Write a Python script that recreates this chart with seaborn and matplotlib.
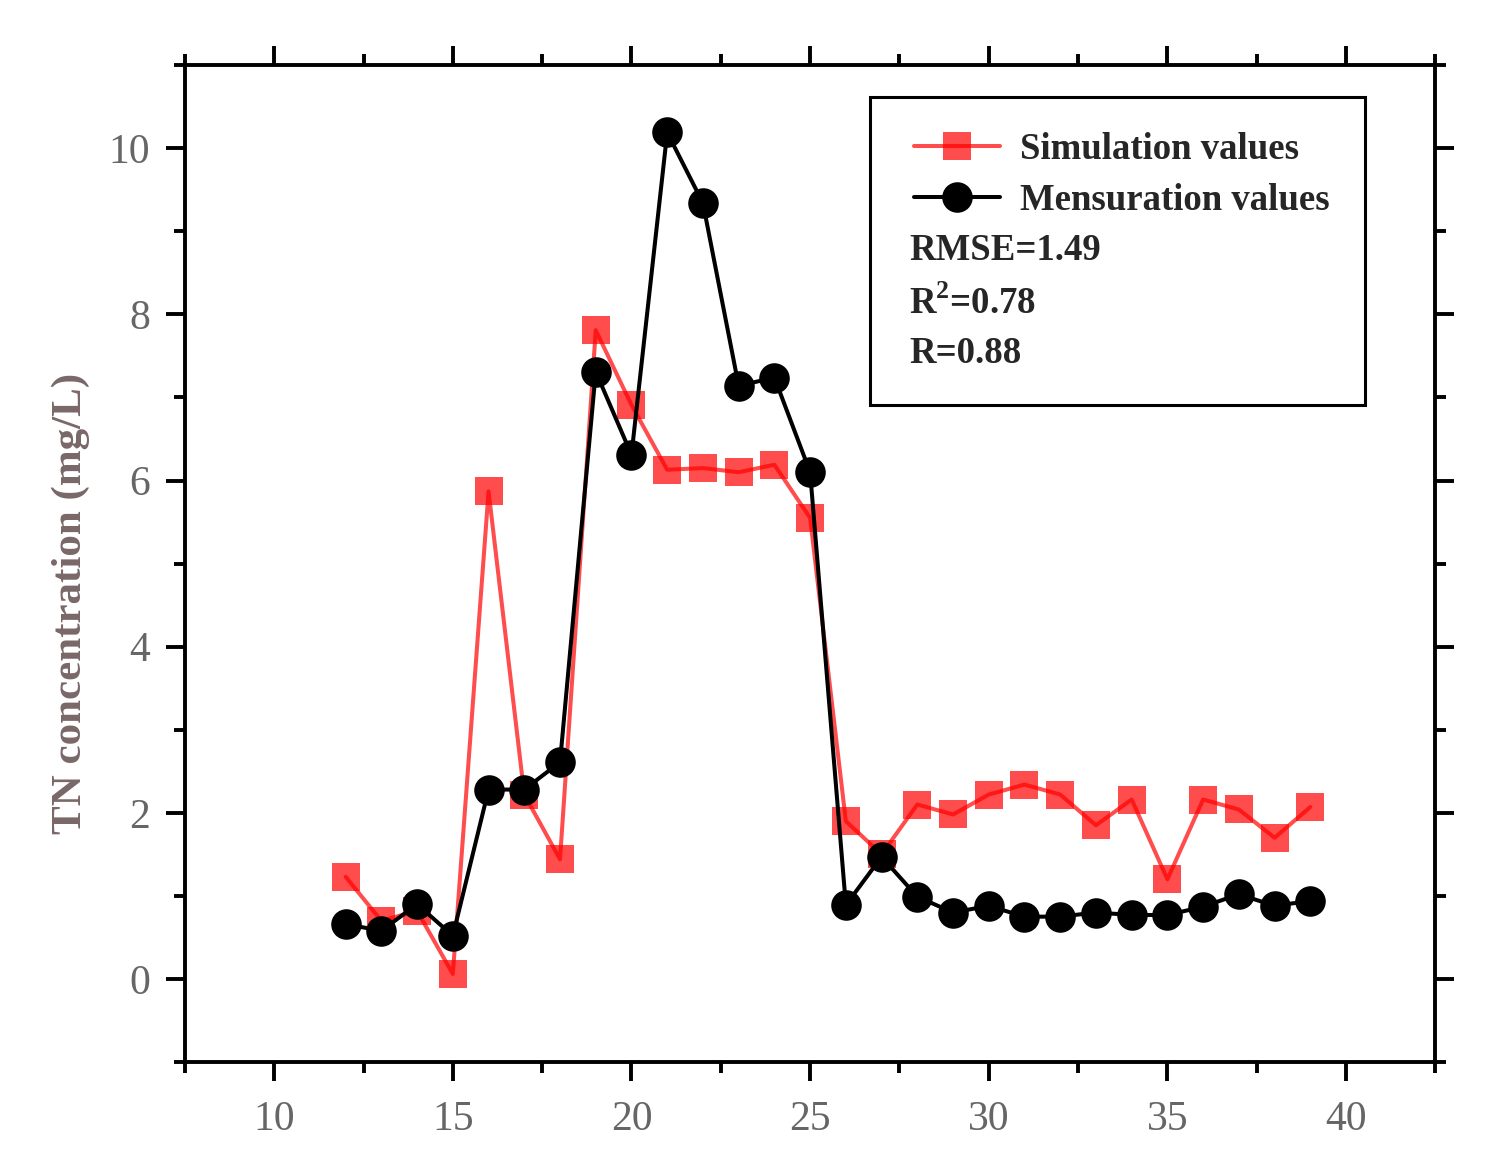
import matplotlib
matplotlib.use("Agg")
import matplotlib.pyplot as plt
from matplotlib.patches import Rectangle
from matplotlib.ticker import MultipleLocator
import seaborn as sns

# site index (x) and TN concentration (mg/L)
sites = list(range(12, 40))
simulation = [1.23, 0.70, 0.82, 0.06, 5.87, 2.22, 1.44, 7.81, 6.91, 6.13,
              6.15, 6.10, 6.19, 5.55, 1.90, 1.50, 2.10, 1.98, 2.22, 2.34,
              2.22, 1.85, 2.16, 1.20, 2.16, 2.04, 1.70, 2.07]
mensuration = [0.66, 0.58, 0.90, 0.52, 2.28, 2.28, 2.61, 7.31, 6.31, 10.19,
               9.34, 7.14, 7.24, 6.10, 0.89, 1.47, 0.99, 0.80, 0.88, 0.75,
               0.75, 0.80, 0.77, 0.77, 0.87, 1.02, 0.88, 0.94]
stats = ["RMSE=1.49", "R$^2$=0.78", "R=0.88"]

sns.set_style("ticks")
plt.rcParams["font.family"] = ["Liberation Serif", "DejaVu Serif"]
plt.rcParams["mathtext.fontset"] = "custom"
plt.rcParams["mathtext.rm"] = "Liberation Serif:bold"
plt.rcParams["mathtext.bf"] = "Liberation Serif:bold"

fig = plt.figure(figsize=(15.03, 11.64), dpi=100)
ax = fig.add_axes([0.123, 0.0876, 0.832, 0.8564])

sns.lineplot(x=sites, y=simulation, ax=ax, color="#ff0000", alpha=0.7,
             marker="s", markersize=20, markeredgewidth=0, linewidth=2.9,
             label="Simulation values")
sns.lineplot(x=sites, y=mensuration, ax=ax, color="black",
             marker="o", markersize=22, markeredgewidth=0, linewidth=2.9,
             label="Mensuration values")

ax.set_xlim(7.5, 42.5)
ax.set_ylim(-1, 11)
ax.xaxis.set_minor_locator(MultipleLocator(2.5))
ax.yaxis.set_minor_locator(MultipleLocator(1))
ax.set_xticks([10, 15, 20, 25, 30, 35, 40])
ax.set_yticks([0, 2, 4, 6, 8, 10])

for side in ["top", "right", "bottom", "left"]:
    ax.spines[side].set_visible(True)
    ax.spines[side].set_linewidth(2.8)
    ax.spines[side].set_color("black")

ax.tick_params(which="both", direction="out", top=True, right=True,
               width=2.8, color="black")
ax.tick_params(which="major", length=14, pad=11, labelsize=30,
               labelcolor="#666666")
ax.tick_params(which="minor", length=8)
ax.tick_params(axis="x", which="major", pad=14)

ax.set_ylabel("TN concentration (mg/L)", fontsize=31, color="#7a6868",
              fontweight="bold")
ax.yaxis.set_label_coords(-0.076, 0.46)
ax.set_xlabel("")

# legend box with the two series and the fit statistics
ax.add_patch(Rectangle((0.548, 0.659), 0.396, 0.309, transform=ax.transAxes,
                       fill=False, edgecolor="black", linewidth=2.2, zorder=5))
leg = ax.legend(loc="upper left", bbox_to_anchor=(0.571, 0.948),
                frameon=False, prop={"size": 26.5, "weight": "bold"},
                handlelength=2.36, handletextpad=0.54, labelspacing=0.45,
                borderaxespad=0)
for y, s in zip([0.814, 0.761, 0.711], stats):
    ax.text(0.579, y, s, transform=ax.transAxes, fontsize=26.5,
            fontweight="bold", va="center", ha="left")

fig.savefig("out.png", dpi=100)
